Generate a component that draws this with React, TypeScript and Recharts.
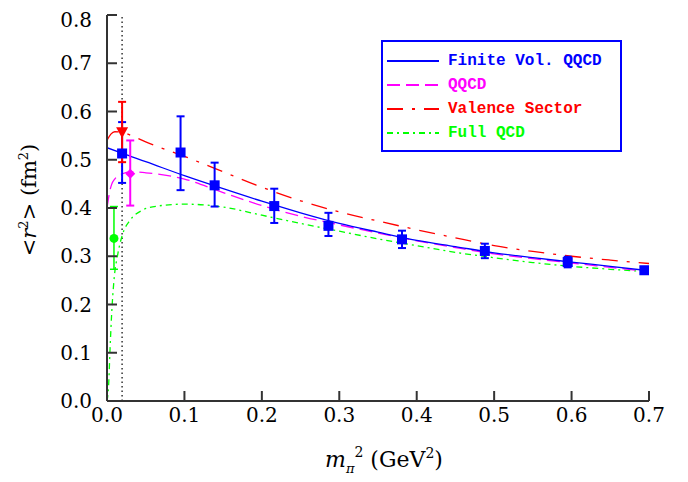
import {
  ComposedChart,
  Line,
  Scatter,
  ErrorBar,
  XAxis,
  YAxis,
  ReferenceLine,
  Legend,
} from "recharts";

// axes
const xTicks = [0, 0.1, 0.2, 0.3, 0.4, 0.5, 0.6, 0.7];
const yTicks = [0, 0.1, 0.2, 0.3, 0.4, 0.5, 0.6, 0.7, 0.8];
const physicalPionMass2 = 0.0195;

// curves (m_pi^2, <r^2>)
const finiteVolCurve = [
  { x: 0, y: 0.525 }, { x: 0.02, y: 0.513 }, { x: 0.05, y: 0.496 },
  { x: 0.1, y: 0.467 }, { x: 0.15, y: 0.44 }, { x: 0.2, y: 0.414 },
  { x: 0.25, y: 0.39 }, { x: 0.3, y: 0.368 }, { x: 0.35, y: 0.35 },
  { x: 0.4, y: 0.333 }, { x: 0.45, y: 0.32 }, { x: 0.5, y: 0.307 },
  { x: 0.55, y: 0.297 }, { x: 0.6, y: 0.288 }, { x: 0.65, y: 0.279 },
  { x: 0.7, y: 0.27 },
];

const qqcdCurve = [
  { x: 0, y: 0.4 }, { x: 0.003, y: 0.43 }, { x: 0.006, y: 0.449 },
  { x: 0.01, y: 0.46 }, { x: 0.02, y: 0.471 }, { x: 0.03, y: 0.475 },
  { x: 0.05, y: 0.473 }, { x: 0.1, y: 0.46 }, { x: 0.15, y: 0.432 },
  { x: 0.2, y: 0.405 }, { x: 0.25, y: 0.383 }, { x: 0.3, y: 0.365 },
  { x: 0.35, y: 0.348 }, { x: 0.4, y: 0.332 }, { x: 0.45, y: 0.318 },
  { x: 0.5, y: 0.305 }, { x: 0.55, y: 0.295 }, { x: 0.6, y: 0.286 },
  { x: 0.65, y: 0.277 }, { x: 0.7, y: 0.268 },
];

const valenceCurve = [
  { x: 0, y: 0.54 }, { x: 0.005, y: 0.553 }, { x: 0.01, y: 0.558 },
  { x: 0.02, y: 0.557 }, { x: 0.03, y: 0.551 }, { x: 0.05, y: 0.537 },
  { x: 0.1, y: 0.507 }, { x: 0.15, y: 0.475 }, { x: 0.2, y: 0.443 },
  { x: 0.25, y: 0.415 }, { x: 0.3, y: 0.392 }, { x: 0.35, y: 0.373 },
  { x: 0.4, y: 0.355 }, { x: 0.45, y: 0.338 }, { x: 0.5, y: 0.322 },
  { x: 0.55, y: 0.31 }, { x: 0.6, y: 0.3 }, { x: 0.65, y: 0.292 },
  { x: 0.7, y: 0.285 },
];

const fullQcdCurve = [
  { x: 0, y: 0 }, { x: 0.002, y: 0.03 }, { x: 0.004, y: 0.11 },
  { x: 0.006, y: 0.18 }, { x: 0.009, y: 0.25 }, { x: 0.014, y: 0.305 },
  { x: 0.02, y: 0.345 }, { x: 0.03, y: 0.375 }, { x: 0.045, y: 0.395 },
  { x: 0.065, y: 0.404 }, { x: 0.1, y: 0.408 }, { x: 0.15, y: 0.402 },
  { x: 0.2, y: 0.385 }, { x: 0.25, y: 0.368 }, { x: 0.3, y: 0.352 },
  { x: 0.35, y: 0.336 }, { x: 0.4, y: 0.322 }, { x: 0.45, y: 0.308 },
  { x: 0.5, y: 0.297 }, { x: 0.55, y: 0.287 }, { x: 0.6, y: 0.279 },
  { x: 0.65, y: 0.273 }, { x: 0.7, y: 0.268 },
];

// lattice points, err = [below, above]
const latticePoints = [
  { x: 0.0195, y: 0.513, err: [0.061, 0.065] },
  { x: 0.095, y: 0.515, err: [0.078, 0.075] },
  { x: 0.139, y: 0.447, err: [0.044, 0.047] },
  { x: 0.216, y: 0.404, err: [0.035, 0.036] },
  { x: 0.286, y: 0.363, err: [0.021, 0.027] },
  { x: 0.381, y: 0.335, err: [0.018, 0.018] },
  { x: 0.488, y: 0.311, err: [0.015, 0.015] },
  { x: 0.595, y: 0.288, err: [0.011, 0.011] },
  { x: 0.694, y: 0.271, err: [0.006, 0.006] },
];
const valencePoint = [{ x: 0.0195, y: 0.557, err: [0.062, 0.063] }];
const qqcdPoint = [{ x: 0.03, y: 0.471, err: [0.066, 0.069] }];
const fullQcdPoint = [{ x: 0.009, y: 0.337, err: [0.064, 0.066] }];

const BLUE = "#0000ff";
const MAGENTA = "#ff00ff";
const RED = "#ff0000";
const GREEN = "#00ff00";

const legendItems = [
  { name: "Finite Vol. QQCD", color: BLUE, dash: "" },
  { name: "QQCD", color: MAGENTA, dash: "13 6" },
  { name: "Valence Sector", color: RED, dash: "16 9 3 9" },
  { name: "Full QCD", color: GREEN, dash: "6 4 2 4" },
];

const serif = "DejaVu Serif";

const Square = (p: any) => (
  <rect x={p.cx - 5} y={p.cy - 5} width={10} height={10} fill={BLUE} />
);
const TriangleDown = (p: any) => (
  <polygon
    points={`${p.cx - 6},${p.cy - 5} ${p.cx + 6},${p.cy - 5} ${p.cx},${p.cy + 6}`}
    fill={RED}
  />
);
const Diamond = (p: any) => (
  <polygon
    points={`${p.cx},${p.cy - 5} ${p.cx + 5},${p.cy} ${p.cx},${p.cy + 5} ${p.cx - 5},${p.cy}`}
    fill={MAGENTA}
  />
);
const Dot = (p: any) => <circle cx={p.cx} cy={p.cy} r={4.5} fill={GREEN} />;

const YTitle = (props: any) => {
  const vb = props.viewBox;
  const cx = vb.x - 11;
  const cy = vb.y + vb.height / 2 - 8;
  return (
    <text
      x={cx}
      y={cy}
      transform={`rotate(-90 ${cx} ${cy})`}
      textAnchor="middle"
      fontFamily={serif}
      fontSize={21}
      fill="#000"
    >
      {"<"}
      <tspan fontStyle="italic">r</tspan>
      <tspan dy={-8} fontSize={13}>2</tspan>
      <tspan dy={8}>{"> (fm"}</tspan>
      <tspan dy={-8} fontSize={13}>2</tspan>
      <tspan dy={8}>)</tspan>
    </text>
  );
};

const XTitle = (props: any) => {
  const vb = props.viewBox;
  const cx = vb.x + vb.width / 2 + 6;
  const cy = vb.y + 66;
  return (
    <text x={cx} y={cy} textAnchor="middle" fontFamily={serif} fontSize={22} fill="#000">
      <tspan fontStyle="italic">m</tspan>
      <tspan dy={6} fontSize={13} fontStyle="italic">π</tspan>
      <tspan dy={-16} fontSize={14}>2</tspan>
      <tspan dy={10}>{"  (GeV"}</tspan>
      <tspan dy={-9} fontSize={14}>2</tspan>
      <tspan dy={9}>)</tspan>
    </text>
  );
};

const LegendBox = () => (
  <div
    style={{
      width: 237,
      height: 108,
      border: "2px solid #0000ff",
      background: "#fff",
      position: "relative",
    }}
  >
    {legendItems.map((item, i) => (
      <div
        key={item.name}
        style={{
          position: "absolute",
          left: 4,
          top: 9 + i * 24,
          height: 20,
          display: "flex",
          alignItems: "center",
        }}
      >
        <svg width={52} height={10}>
          <line
            x1={0}
            y1={5}
            x2={52}
            y2={5}
            stroke={item.color}
            strokeWidth={2}
            strokeDasharray={item.dash}
          />
        </svg>
        <span
          style={{
            marginLeft: 9,
            color: item.color,
            fontFamily: "Liberation Mono",
            fontWeight: "bold",
            fontSize: 16,
            whiteSpace: "nowrap",
          }}
        >
          {item.name}
        </span>
      </div>
    ))}
  </div>
);

const tickFont = { fontFamily: serif, fontSize: 20, fill: "#000" };
const frame = "#333";

export default function App() {
  return (
    <ComposedChart
      width={672}
      height={474}
      margin={{ top: 7, right: 31, bottom: 51, left: 39 }}
    >
      <XAxis
        dataKey="x"
        type="number"
        domain={[0, 0.7]}
        ticks={xTicks}
        allowDataOverflow
        height={30}
        tickSize={-10}
        tickMargin={17}
        tickFormatter={(v: number) => v.toFixed(1)}
        tick={tickFont}
        stroke={frame}
        strokeWidth={2}
        label={{ content: XTitle }}
      />
      <XAxis
        xAxisId="top"
        orientation="top"
        type="number"
        domain={[0, 0.7]}
        ticks={xTicks}
        allowDataOverflow
        height={0}
        tickSize={-10}
        tickFormatter={() => ""}
        stroke={frame}
        strokeWidth={2}
      />
      <YAxis
        dataKey="y"
        type="number"
        domain={[0, 0.8]}
        ticks={yTicks}
        allowDataOverflow
        width={60}
        tickSize={-10}
        tickMargin={25}
        tickFormatter={(v: number) => v.toFixed(1)}
        tick={tickFont}
        stroke={frame}
        strokeWidth={2}
        label={{ content: YTitle }}
      />
      <YAxis
        yAxisId="right"
        orientation="right"
        type="number"
        domain={[0, 0.8]}
        ticks={yTicks}
        allowDataOverflow
        width={0}
        tickSize={-10}
        tickFormatter={() => ""}
        stroke={frame}
        strokeWidth={2}
      />
      <ReferenceLine
        x={physicalPionMass2}
        stroke="#333"
        strokeWidth={1.5}
        strokeDasharray="1.5 3"
      />
      <Line
        data={fullQcdCurve}
        dataKey="y"
        type="monotone"
        stroke={GREEN}
        strokeWidth={1.3}
        strokeDasharray="6 4 2 4"
        dot={false}
        legendType="none"
        isAnimationActive={false}
      />
      <Line
        data={valenceCurve}
        dataKey="y"
        type="monotone"
        stroke={RED}
        strokeWidth={1.3}
        strokeDasharray="16 9 3 9"
        dot={false}
        legendType="none"
        isAnimationActive={false}
      />
      <Line
        data={qqcdCurve}
        dataKey="y"
        type="monotone"
        stroke={MAGENTA}
        strokeWidth={1.3}
        strokeDasharray="13 6"
        dot={false}
        legendType="none"
        isAnimationActive={false}
      />
      <Line
        data={finiteVolCurve}
        dataKey="y"
        type="monotone"
        stroke={BLUE}
        strokeWidth={1.3}
        dot={false}
        legendType="none"
        isAnimationActive={false}
      />
      <Scatter data={fullQcdPoint} dataKey="y" shape={Dot} legendType="none" isAnimationActive={false}>
        <ErrorBar dataKey="err" direction="y" width={4} strokeWidth={1.5} stroke={GREEN} />
      </Scatter>
      <Scatter data={qqcdPoint} dataKey="y" shape={Diamond} legendType="none" isAnimationActive={false}>
        <ErrorBar dataKey="err" direction="y" width={4} strokeWidth={2} stroke={MAGENTA} />
      </Scatter>
      <Scatter data={latticePoints} dataKey="y" shape={Square} legendType="none" isAnimationActive={false}>
        <ErrorBar dataKey="err" direction="y" width={4} strokeWidth={2} stroke={BLUE} />
      </Scatter>
      <Scatter data={valencePoint} dataKey="y" shape={TriangleDown} legendType="none" isAnimationActive={false}>
        <ErrorBar dataKey="err" direction="y" width={4} strokeWidth={2} stroke={RED} />
      </Scatter>
      <Legend
        layout="vertical"
        align="center"
        verticalAlign="middle"
        content={LegendBox}
        wrapperStyle={{ left: 373, top: 32, right: "auto", bottom: "auto", width: "auto", height: "auto" }}
      />
    </ComposedChart>
  );
}
